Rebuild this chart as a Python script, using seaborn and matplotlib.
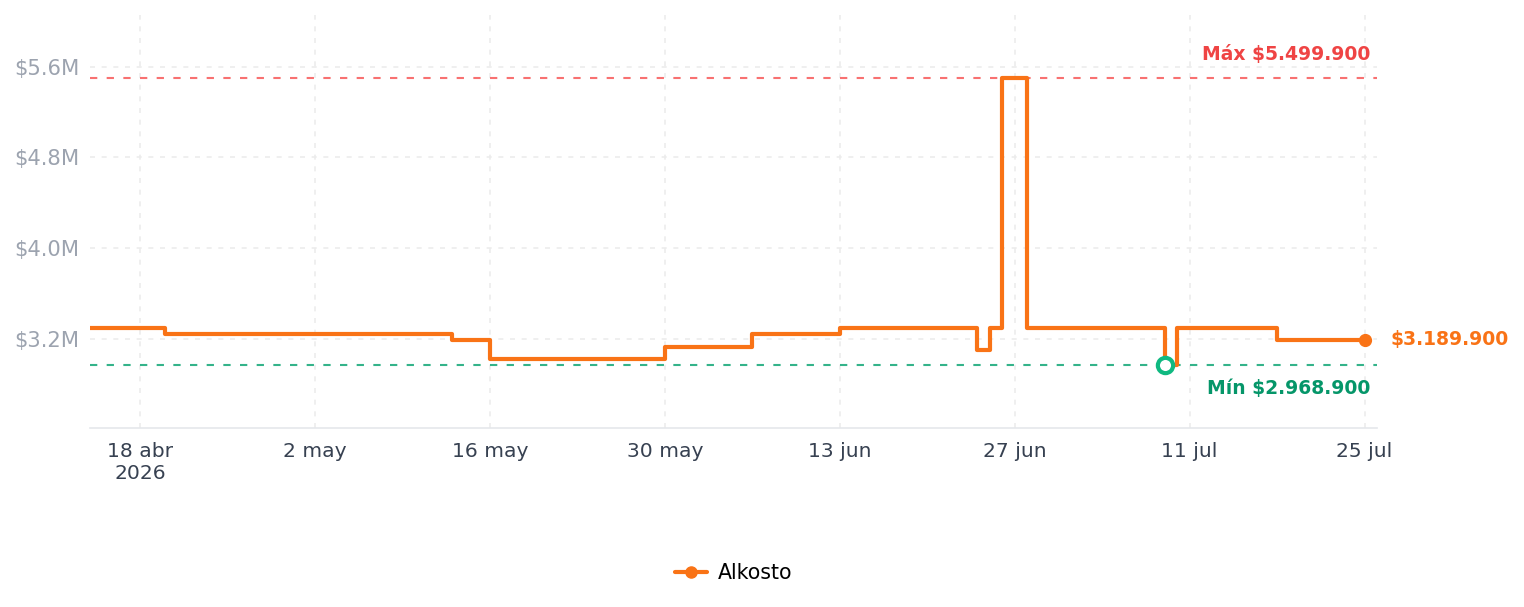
import numpy as np
import pandas as pd
import matplotlib.pyplot as plt
import matplotlib.dates as mdates
from matplotlib.lines import Line2D
import seaborn as sns

sns.set_style('white')
plt.rcParams['font.family'] = ['DejaVu Sans']

# price history (step changes)
fechas = ['2026-04-14', '2026-04-20', '2026-05-13', '2026-05-16', '2026-05-30',
          '2026-06-06', '2026-06-13', '2026-06-24', '2026-06-25', '2026-06-26',
          '2026-06-28', '2026-07-09', '2026-07-10', '2026-07-18', '2026-07-25']
precios = [3289900, 3239900, 3189900, 3019900, 3129900,
           3239900, 3289900, 3099900, 3289900, 5499900,
           3289900, 2968900, 3289900, 3189900, 3189900]
tienda = 'Alkosto'
precio_max = 5499900
precio_min = 2968900
fecha_min = '2026-07-09'
ticks_y = [3.2e6, 4.0e6, 4.8e6, 5.6e6]
ticks_x = ['2026-04-18', '2026-05-02', '2026-05-16', '2026-05-30',
           '2026-06-13', '2026-06-27', '2026-07-11', '2026-07-25']
etiquetas_x = ['18 abr\n2026', '2 may', '16 may', '30 may', '13 jun', '27 jun', '11 jul', '25 jul']

df = pd.DataFrame({'fecha': pd.to_datetime(fechas), 'precio': precios})

naranja = '#f97316'
fig = plt.figure(figsize=(15.24, 6.07), dpi=100)
ax = fig.add_axes([90 / 1524, 1 - 428.3 / 607, (1377 - 90) / 1524, (428.3 - 15) / 607])

# grid
for t in ticks_y:
    ax.axhline(t, color='#ececec', lw=1.2, ls=(0, (3, 4)), zorder=0)
for t in pd.to_datetime(ticks_x):
    ax.axvline(t, color='#ececec', lw=1.2, ls=(0, (3, 4)), zorder=0)

# max / min reference lines
ax.axhline(precio_max, color='#f87171', lw=1.5, ls=(0, (3.5, 4.5)), zorder=1)
ax.axhline(precio_min, color='#34b38a', lw=1.5, ls=(0, (3.5, 4.5)), zorder=1)

sns.lineplot(data=df, x='fecha', y='precio', drawstyle='steps-post', color=naranja,
             lw=3, ax=ax, legend=False, zorder=3)

# last point
ult = df.iloc[-1]
ax.plot(ult['fecha'], ult['precio'], 'o', color=naranja, ms=8.5, zorder=4)
ax.annotate('$3.189.900', (ult['fecha'], ult['precio']), xytext=(18.5, 0),
            textcoords='offset points', va='center', ha='left', color=naranja,
            fontsize=13.5, fontweight='bold', annotation_clip=False)

# min point
ax.plot(pd.Timestamp(fecha_min), precio_min, 'o', mfc='white', mec='#10b981',
        mew=3, ms=11, zorder=5)

trans = ax.get_yaxis_transform()
ax.annotate('Máx $5.499.900', (0.9946, precio_max), xycoords=trans, xytext=(0, 17),
            textcoords='offset points', ha='right', va='center', color='#ef4444',
            fontsize=13.5, fontweight='bold')
ax.annotate('Mín $2.968.900', (0.9946, precio_min), xycoords=trans, xytext=(0, -16.8),
            textcoords='offset points', ha='right', va='center', color='#059669',
            fontsize=13.5, fontweight='bold')

ax.set_xlim(pd.Timestamp('2026-04-14'), pd.Timestamp('2026-07-26'))
ax.set_ylim(2.409e6, 6.056e6)
ax.set_yticks(ticks_y)
ax.set_yticklabels([f'${v / 1e6:.1f}M' for v in ticks_y])
ax.set_xticks(pd.to_datetime(ticks_x))
ax.set_xticklabels(etiquetas_x)
ax.set_xlabel('')
ax.set_ylabel('')
ax.tick_params(axis='y', length=0, pad=7.5, labelsize=15.2, labelcolor='#9ca3af')
ax.tick_params(axis='x', length=0, pad=10, labelsize=14.6, labelcolor='#374151')
for s in ['top', 'right', 'left']:
    ax.spines[s].set_visible(False)
ax.spines['bottom'].set_color('#e5e7eb')
ax.spines['bottom'].set_linewidth(1.2)

handle = Line2D([], [], color=naranja, lw=3, marker='o', ms=8)
ax.legend([handle], [tienda], loc='center', bbox_to_anchor=(0.5, -0.35),
          frameon=False, fontsize=14.8, handlelength=1.6, handletextpad=0.5,
          labelcolor='black')

fig.savefig('out.png', dpi=100)
